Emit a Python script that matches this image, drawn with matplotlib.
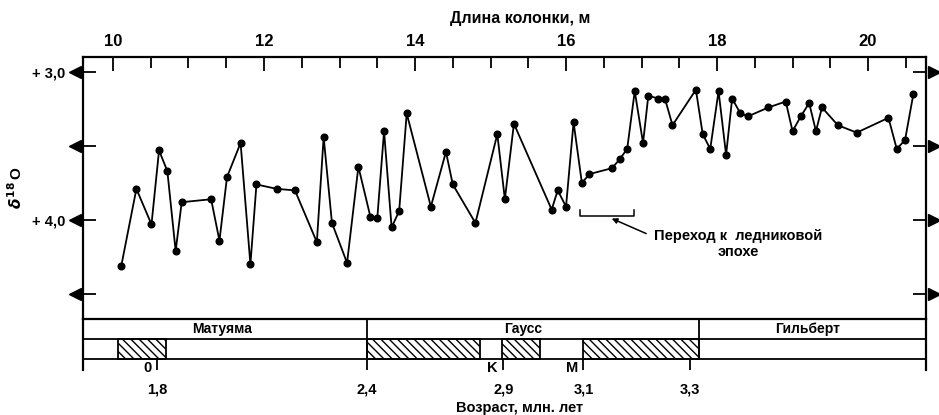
"""Oxygen-isotope record of a deep-sea core with the magnetic polarity scale below."""

import matplotlib
matplotlib.use("Agg")
import matplotlib.pyplot as plt
import numpy as np
from matplotlib.transforms import blended_transform_factory

plt.rcParams['font.family'] = ['Liberation Sans', 'DejaVu Sans']
plt.rcParams['font.weight'] = 'bold'
plt.rcParams['axes.labelweight'] = 'bold'
plt.rcParams['hatch.linewidth'] = 1.0

# --- data ---------------------------------------------------------------------
# core depth (m) and delta-18O (per mil)
depth = [10.11, 10.31, 10.51, 10.61, 10.72, 10.83, 10.91, 11.30, 11.41, 11.51,
         11.69, 11.82, 11.90, 12.17, 12.41, 12.70, 12.79, 12.90, 13.10, 13.25,
         13.41, 13.50, 13.59, 13.69, 13.79, 13.89, 14.21, 14.41, 14.50, 14.80,
         15.09, 15.19, 15.31, 15.81, 15.89, 16.00, 16.10, 16.21, 16.31, 16.61,
         16.71, 16.81, 16.91, 17.02, 17.09, 17.22, 17.31, 17.41, 17.72, 17.81,
         17.91, 18.02, 18.12, 18.20, 18.31, 18.41, 18.68, 18.91, 19.00, 19.11,
         19.22, 19.31, 19.39, 19.60, 19.85, 20.27, 20.38, 20.49, 20.60]
d18o = [4.31, 3.79, 4.03, 3.53, 3.67, 4.21, 3.88, 3.86, 4.14, 3.71,
        3.48, 4.30, 3.76, 3.79, 3.80, 4.15, 3.44, 4.02, 4.29, 3.64,
        3.98, 3.99, 3.40, 4.05, 3.94, 3.28, 3.91, 3.54, 3.76, 4.02,
        3.42, 3.86, 3.35, 3.93, 3.80, 3.91, 3.34, 3.75, 3.69, 3.65,
        3.59, 3.52, 3.13, 3.48, 3.16, 3.18, 3.18, 3.36, 3.12, 3.42,
        3.52, 3.13, 3.56, 3.18, 3.28, 3.30, 3.24, 3.20, 3.40, 3.30,
        3.21, 3.40, 3.24, 3.36, 3.41, 3.31, 3.52, 3.46, 3.15]

depth_major = [10, 12, 14, 16, 18, 20]
depth_minor = np.arange(10, 20.51, 0.5)
d18o_ticks = [3.0, 3.5, 4.0, 4.5]
d18o_labels = ['+ 3,0', '', '+ 4,0', '']

# magnetic stratigraphy, positions given as core depth (m)
chron_bounds = [13.36, 17.76]
chron_names = ['Матуяма', 'Гаусс', 'Гильберт']
chron_label_x = [11.44, 15.43, 19.20]
hatch_start = [10.07, 13.36, 15.15, 16.23]
hatch_end = [10.70, 14.86, 15.66, 17.76]
age_depth = [10.58, 13.36, 15.17, 16.23, 17.64]
age_labels = ['1,8', '2,4', '2,9', '3,1', '3,3']
event_names = ['0', 'K', 'M']           # Olduvai, Kaena, Mammoth
event_depth = [10.58, 15.17, 16.23]

transition = (16.19, 16.90)             # bracket under the glacial transition

xlim = (9.603, 20.768)

# --- figure -------------------------------------------------------------------
fig = plt.figure(figsize=(9.39, 4.15), dpi=100)
ax = fig.add_axes([0.0884, 0.2313, 0.8978, 0.6314])
band = fig.add_axes([0.0884, 0.1084, 0.8978, 0.1229])

ax.plot(depth, d18o, '-o', color='black', lw=1.3, ms=4.8)
ax.set_xlim(*xlim)
ax.set_ylim(4.669, 2.899)
ax.spines['bottom'].set_visible(False)
for s in ('left', 'right', 'top'):
    ax.spines[s].set_linewidth(1.6)

ax.xaxis.tick_top()
ax.set_xticks(depth_major, [str(v) for v in depth_major])
ax.set_xticks(depth_minor, minor=True)
ax.tick_params(axis='x', which='both', direction='in', top=True, bottom=False, width=1.3)
ax.tick_params(axis='x', which='major', length=10, labelsize=12, pad=6)
ax.tick_params(axis='x', which='minor', length=8)
ax.xaxis.set_label_position('top')
ax.set_xlabel('Длина колонки, м', fontsize=11.5, x=0.518, labelpad=8)

ax.set_yticks(d18o_ticks, d18o_labels)
ax.tick_params(axis='y', direction='in', left=True, right=True, length=9.5,
               width=1.3, labelsize=10.5, pad=13)
ax.set_ylabel(r'$\delta^{18}\,$O', fontsize=11)
ax.yaxis.set_label_coords(-0.069, 0.5)

# arrow heads on the value axes
trans = blended_transform_factory(ax.transAxes, ax.transData)
ax.plot(np.full(len(d18o_ticks), -0.0095), d18o_ticks, '<', color='black',
        ms=9, transform=trans, clip_on=False)
ax.plot(np.full(len(d18o_ticks), 1.0095), d18o_ticks, '>', color='black',
        ms=9, transform=trans, clip_on=False)

# bracket + note for the transition to the ice age
ax.plot([transition[0], transition[0], transition[1], transition[1]],
        [3.93, 3.973, 3.973, 3.93], color='black', lw=1.1)
ax.annotate('Переход к  ледниковой\nэпохе', xy=(16.605, 3.99), xytext=(18.28, 4.16),
            ha='center', va='center', multialignment='center', fontsize=10.5,
            arrowprops=dict(arrowstyle='-|>', color='black', lw=1.1,
                            mutation_scale=8, relpos=(0, 0.72), shrinkA=4, shrinkB=0))

# --- polarity band ------------------------------------------------------------
band.set_xlim(*xlim)
band.set_ylim(-0.55, 2)
band.spines['bottom'].set_visible(False)
for s in ('left', 'right', 'top'):
    band.spines[s].set_linewidth(1.6)
band.axhline(0, color='black', lw=1.3)
band.axhline(1, color='black', lw=1.3)
band.bar(hatch_start, 1, width=np.subtract(hatch_end, hatch_start), bottom=0,
         align='edge', fill=False, hatch='\\\\\\\\', edgecolor='black', lw=1.3)
band.vlines(chron_bounds, 0, 2, color='black', lw=1.3)
for name, x in zip(chron_names, chron_label_x):
    band.text(x, 1.5, name, ha='center', va='center', fontsize=10)
for name, x in zip(event_names, event_depth):
    band.annotate(name, xy=(x, -0.45), xytext=(-4, 0), textcoords='offset points',
                  ha='right', va='center', fontsize=10.5)

band.set_yticks([])
band.set_xticks(age_depth, age_labels)
band.tick_params(axis='x', direction='in', length=8, width=1.3, labelsize=10.5, pad=9)
band.set_xlabel('Возраст, млн. лет', fontsize=10.5, x=0.518, labelpad=3)

fig.savefig('out.png', dpi=100)
